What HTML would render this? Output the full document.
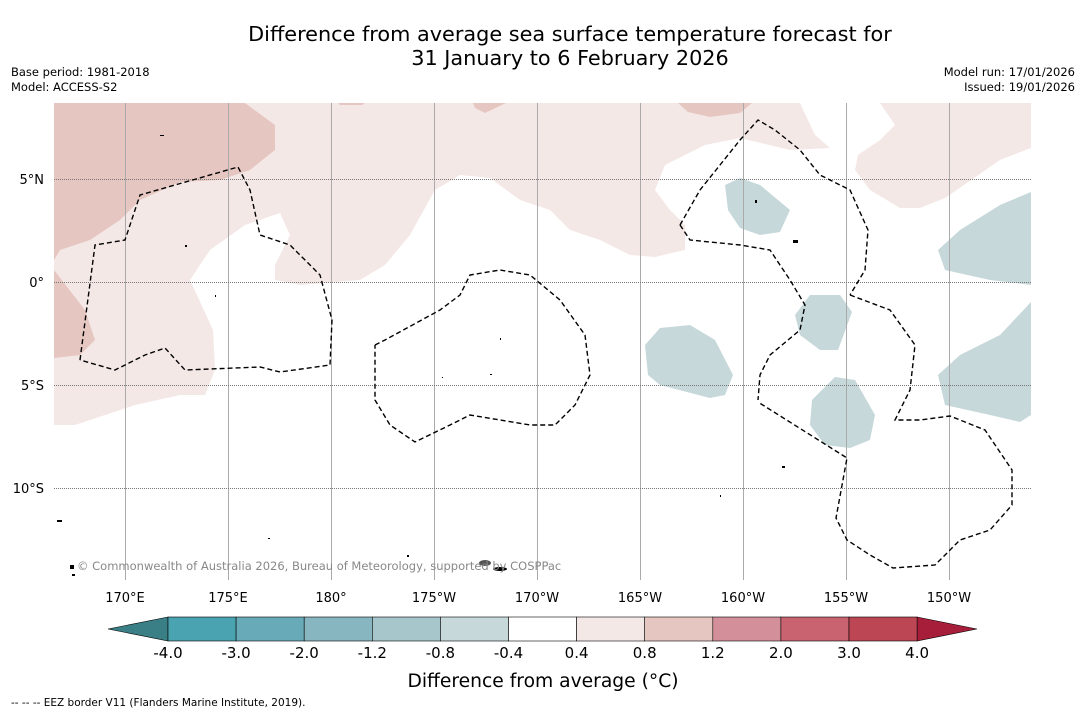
<!DOCTYPE html>
<html><head><meta charset="utf-8"><style>
body{margin:0;background:#fff;font-family:"DejaVu Sans","Liberation Sans",sans-serif;}
#wrap{position:relative;width:1085px;height:713px;overflow:hidden;background:#fff}
.t{position:absolute;white-space:nowrap}
svg text{font-family:"DejaVu Sans","Liberation Sans",sans-serif}
</style></head><body>
<div id="wrap">
<div class="t" style="left:0;width:1140px;text-align:center;top:22px;font-size:20.8px;line-height:24px;color:#000">Difference from average sea surface temperature forecast for<br>31 January to 6 February 2026</div>
<div class="t" style="left:11px;top:65px;font-size:11.5px;line-height:15px">Base period: 1981-2018<br>Model: ACCESS-S2</div>
<div class="t" style="right:10px;top:65px;font-size:11.5px;line-height:15px;text-align:right">Model run: 17/01/2026<br>Issued: 19/01/2026</div>
<svg id="map" width="1085" height="713" style="position:absolute;left:0;top:0">
<defs><clipPath id="c"><rect x="54" y="103" width="977" height="477"/></clipPath></defs>
<g clip-path="url(#c)" id="mapg">
<polygon fill="#f4e8e6" points="54,103 800,103 815,135 830,148 790,150 740,138 705,145 665,165 655,190 670,210 685,225 685,250 655,257 630,255 600,240 570,230 550,210 520,200 490,178 460,175 435,190 410,235 385,265 360,280 300,285 275,280 275,265 290,235 280,213 245,225 210,250 190,280 213,330 215,370 205,395 180,395 135,405 75,425 54,425"/>
<polygon fill="#e6c6c1" points="54,103 245,103 275,125 275,150 250,170 220,180 180,182 140,200 120,220 90,240 60,250 54,260"/>
<polygon fill="#e6c6c1" points="54,270 85,310 95,340 80,355 54,358"/>
<polygon fill="#e6c6c1" points="338,103 365,103 362,105 340,105"/>
<polygon fill="#e6c6c1" points="473,103 506,103 485,113 475,108"/>
<polygon fill="#e6c6c1" points="678,103 752,103 740,113 710,117 688,112"/>
<polygon fill="#f4e8e6" points="880,103 1031,103 1031,148 1000,160 945,198 920,208 900,208 870,190 855,170 858,155 880,140 895,125"/>
<g fill="#c6d8da">
<polygon points="725,185 740,178 760,185 790,210 780,232 760,235 740,228 728,210"/>
<polygon points="645,345 660,328 690,325 715,340 733,375 725,395 710,398 660,385 648,375"/>
<polygon points="795,315 810,295 840,295 852,312 838,350 820,350 800,335"/>
<polygon points="812,400 835,377 855,380 875,415 870,440 850,448 825,445 810,425"/>
<polygon points="1031,192 1000,205 960,230 938,250 945,270 990,280 1031,285"/>
<polygon points="1031,302 1000,335 960,355 938,375 945,405 990,415 1020,422 1031,415"/>
</g>
<g id="grid" stroke="#999" stroke-width="1" shape-rendering="crispEdges"></g>
<g fill="none" stroke="#000" stroke-width="1.4" stroke-dasharray="5,3">
<polyline points="80,360 95,245 125,240 140,195 175,185 238,167 250,190 260,235 290,245 320,275 332,320 330,365 280,372 260,367 185,370 165,348 145,355 115,370 80,360"/>
<polyline points="375,345 385,340 440,310 460,295 470,275 500,270 530,275 560,300 585,335 590,375 575,405 555,425 530,425 470,415 450,425 415,442 390,425 375,400 375,345"/>
<polyline points="680,225 690,240 740,245 770,250 790,280 805,305 800,330 770,355 760,375 758,400"/>
<polyline points="680,225 700,190 720,165 740,140 758,120 775,130 800,150 820,175 850,190 868,230 865,270 850,295"/>
<polyline points="850,295 890,310 915,345 910,390 895,420 920,420 950,416 985,430 1012,470 1012,505 990,530 960,540 935,565 893,568 870,555 847,540 836,518 847,458 758,402"/>
</g>
<g fill="#000">
<rect x="57" y="520" width="5" height="2"/><rect x="70" y="565" width="4" height="4"/><rect x="72" y="574" width="3" height="2"/>
<ellipse cx="485" cy="563" rx="6" ry="3" fill="#555"/><ellipse cx="500" cy="569" rx="7" ry="2"/>
<rect x="755" y="200" width="2" height="3"/><rect x="793" y="240" width="5" height="3"/><rect x="782" y="466" width="3" height="2"/>
<rect x="215" y="295" width="1" height="2"/><rect x="185" y="245" width="2" height="2"/><rect x="160" y="135" width="4" height="1"/>
<rect x="500" y="338" width="1" height="2"/><rect x="442" y="377" width="1" height="1"/><rect x="490" y="374" width="2" height="1"/>
<rect x="720" y="495" width="1" height="2"/><rect x="268" y="538" width="2" height="1"/><rect x="407" y="555" width="2" height="2"/>
</g>
</g>
<text x="77" y="570" font-size="11.5" fill="#888">© Commonwealth of Australia 2026, Bureau of Meteorology, supported by COSPPac</text>
<g id="ticks" font-size="13" fill="#000"></g>
<g id="cbar"></g>
<text x="543" y="687" text-anchor="middle" font-size="18.7">Difference from average (°C)</text>
<text x="11" y="706" font-size="10.5">-- -- -- EEZ border V11 (Flanders Marine Institute, 2019).</text>
</svg>
</div>
<script>
const lonTicks=[170,175,180,185,190,195,200,205,210];
const lonLabels=["170°E","175°E","180°","175°W","170°W","165°W","160°W","155°W","150°W"];
const latTicks=[5,0,-5,-10];
const latLabels=["5°N","0°","5°S","10°S"];
const cbarBounds=[-4.0,-3.0,-2.0,-1.2,-0.8,-0.4,0.4,0.8,1.2,2.0,3.0,4.0];
const cbarColors=["#4aa3b0","#69aab8","#88b6c0","#a7c6cb","#c6d8da","#ffffff","#f4e8e6","#e6c6c1","#d4909a","#c9636f","#bd4655"];
const NS="http://www.w3.org/2000/svg";
const xLon=l=>125+(l-170)*20.6, yLat=l=>282-l*20.6;
const grid=document.getElementById('grid'), ticks=document.getElementById('ticks');
lonTicks.forEach((l,i)=>{
  const ln=document.createElementNS(NS,'line');
  ln.setAttribute('x1',Math.round(xLon(l))+0.5);ln.setAttribute('x2',Math.round(xLon(l))+0.5);ln.setAttribute('y1',103);ln.setAttribute('y2',580);
  ln.setAttribute('stroke','#aaa');
  
  
  grid.appendChild(ln);
  const t=document.createElementNS(NS,'text');
  t.setAttribute('x',xLon(l));t.setAttribute('y',602);t.setAttribute('text-anchor','middle');t.textContent=lonLabels[i];
  
  
  ticks.appendChild(t);
});
latTicks.forEach((l,i)=>{
  const ln=document.createElementNS(NS,'line');
  ln.setAttribute('x1',54);ln.setAttribute('x2',1031);ln.setAttribute('y1',Math.round(yLat(l))+0.5);ln.setAttribute('y2',Math.round(yLat(l))+0.5);
  ln.setAttribute('stroke-dasharray','1,1');
  ln.setAttribute('stroke','#777');
  
  
  grid.appendChild(ln);
  const t=document.createElementNS(NS,'text');
  t.setAttribute('x',44);t.setAttribute('y',yLat(l)+5);t.setAttribute('text-anchor','end');t.textContent=latLabels[i];
  
  
  ticks.appendChild(t);
});
const cb=document.getElementById('cbar');
const x0=168,w=68.1,y0=617,h=24;
const lt=document.createElementNS(NS,'polygon');
lt.setAttribute('points',`${x0},${y0} 108,${y0+h/2} ${x0},${y0+h}`);lt.setAttribute('fill','#3a7f86');lt.setAttribute('stroke','#000');lt.setAttribute('stroke-width','0.6');


cb.appendChild(lt);
const xe=x0+w*cbarColors.length;
const rt=document.createElementNS(NS,'polygon');
rt.setAttribute('points',`${xe},${y0} 977,${y0+h/2} ${xe},${y0+h}`);rt.setAttribute('fill','#a61e3a');rt.setAttribute('stroke','#000');rt.setAttribute('stroke-width','0.6');


cb.appendChild(rt);
cbarColors.forEach((c,i)=>{
  const r=document.createElementNS(NS,'rect');
  r.setAttribute('x',x0+i*w);r.setAttribute('y',y0);r.setAttribute('width',w);r.setAttribute('height',h);
  r.setAttribute('fill',c);r.setAttribute('stroke','#000');r.setAttribute('stroke-width','0.6');
  
  
  cb.appendChild(r);
});
cbarBounds.forEach((b,i)=>{
  const t=document.createElementNS(NS,'text');
  t.setAttribute('x',x0+i*w);t.setAttribute('y',658);t.setAttribute('text-anchor','middle');t.setAttribute('font-size','15');
  t.textContent=b.toFixed(1);
  
  
  cb.appendChild(t);
});
</script>
</body></html>
